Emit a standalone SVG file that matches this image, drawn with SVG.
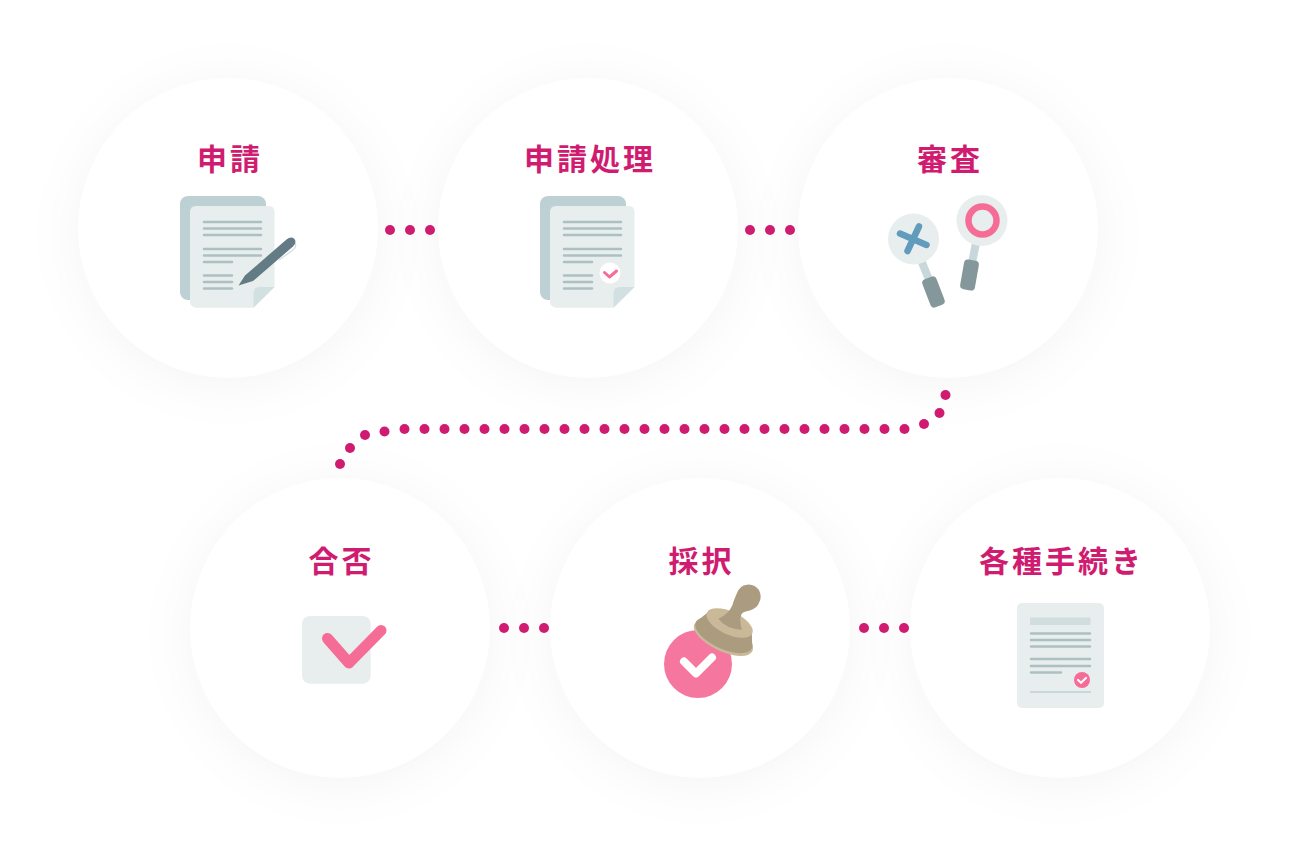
<svg xmlns="http://www.w3.org/2000/svg" xmlns:xlink="http://www.w3.org/1999/xlink" width="1300" height="868" viewBox="0 0 1300 868">
<style>
.label{font-family:"Noto Sans CJK JP","Noto Sans CJK SC",sans-serif;font-weight:700;font-size:30px;letter-spacing:3px;fill:#d01c70;text-anchor:middle}
.disc{fill:#fff}
.shadow{fill:#000;fill-opacity:.045;filter:url(#soft)}
.dot{fill:#d01c70}
.ln{stroke:#adc0c1;stroke-width:2.6;stroke-linecap:round;fill:none}
.page{fill:#e8eeee}
.back{fill:#bdd0d4}
.fold{fill:#d3e0e1}
.ck{fill:none;stroke-linecap:round;stroke-linejoin:round}
</style>
<defs>
<filter id="soft" x="-40%" y="-40%" width="180%" height="180%"><feGaussianBlur stdDeviation="26"/></filter>
<g id="doclines">
<path class="ln" d="M204 222H261M204 228.500H261M204 235H261M204 249H261M204 255.500H261M204 262H232M204 275.500H232M204 282H232M204 288.500H232"/>
</g>
<g id="doc">
<rect class="back" x="180" y="196" width="86" height="104" rx="8"/>
<path class="page" d="M196 206H269Q274.500 206 274.500 212V287L253.500 307.700H197Q190 307.700 190 301V212Q190 206 196 206Z"/>
<path class="fold" d="M253.500 307.700V293Q253.500 287 260 287H274.500Z"/>
<use xlink:href="#doclines" href="#doclines"/>
</g>
</defs>
<rect width="1300" height="868" fill="#fff"/>
<g id="shadows">
<circle class="shadow" cx="228" cy="234" r="150"/><circle class="shadow" cx="588" cy="234" r="150"/><circle class="shadow" cx="948" cy="234" r="150"/>
<circle class="shadow" cx="340" cy="634" r="150"/><circle class="shadow" cx="700" cy="634" r="150"/><circle class="shadow" cx="1060" cy="634" r="150"/>
</g>
<g id="connectors">
<g id="c1"><circle class="dot" cx="390" cy="230" r="5"/><circle class="dot" cx="410" cy="230" r="5"/><circle class="dot" cx="430" cy="230" r="5"/></g>
<g id="c2"><circle class="dot" cx="750" cy="230" r="5"/><circle class="dot" cx="770" cy="230" r="5"/><circle class="dot" cx="790" cy="230" r="5"/></g>
<g id="c3">
<circle class="dot" cx="945.500" cy="395" r="5"/><circle class="dot" cx="939.500" cy="413" r="5"/><circle class="dot" cx="924" cy="424" r="5"/>
<circle class="dot" cx="904.500" cy="429" r="5"/><circle class="dot" cx="884.500" cy="429" r="5"/><circle class="dot" cx="864.500" cy="429" r="5"/><circle class="dot" cx="844.500" cy="429" r="5"/><circle class="dot" cx="824.500" cy="429" r="5"/><circle class="dot" cx="804.500" cy="429" r="5"/><circle class="dot" cx="784.500" cy="429" r="5"/><circle class="dot" cx="764.500" cy="429" r="5"/><circle class="dot" cx="744.500" cy="429" r="5"/><circle class="dot" cx="724.500" cy="429" r="5"/><circle class="dot" cx="704.500" cy="429" r="5"/><circle class="dot" cx="684.500" cy="429" r="5"/><circle class="dot" cx="664.500" cy="429" r="5"/><circle class="dot" cx="644.500" cy="429" r="5"/><circle class="dot" cx="624.500" cy="429" r="5"/><circle class="dot" cx="604.500" cy="429" r="5"/><circle class="dot" cx="584.500" cy="429" r="5"/><circle class="dot" cx="564.500" cy="429" r="5"/><circle class="dot" cx="544.500" cy="429" r="5"/><circle class="dot" cx="524.500" cy="429" r="5"/><circle class="dot" cx="504.500" cy="429" r="5"/><circle class="dot" cx="484.500" cy="429" r="5"/><circle class="dot" cx="464.500" cy="429" r="5"/><circle class="dot" cx="444.500" cy="429" r="5"/><circle class="dot" cx="424.500" cy="429" r="5"/><circle class="dot" cx="404.500" cy="429" r="5"/>
<circle class="dot" cx="384.500" cy="431.500" r="5"/><circle class="dot" cx="365" cy="435" r="5"/><circle class="dot" cx="350" cy="448" r="5"/><circle class="dot" cx="340" cy="464" r="5"/></g>
<g id="c4"><circle class="dot" cx="504" cy="628" r="5"/><circle class="dot" cx="524" cy="628" r="5"/><circle class="dot" cx="544" cy="628" r="5"/></g>
<g id="c5"><circle class="dot" cx="864" cy="628" r="5"/><circle class="dot" cx="884" cy="628" r="5"/><circle class="dot" cx="904" cy="628" r="5"/></g>
</g>
<g id="node-shinsei">
<circle class="disc" cx="228" cy="228" r="150"/>
<text class="label" x="230" y="170">申請</text>
<use xlink:href="#doc" href="#doc"/>
<path d="M279 260L293 250Q297 247 295 243" fill="none" stroke="#d3e0e1" stroke-width="1.400"/>
<path d="M238.500 285.500L245 275.500L286.500 239.500Q291 236 294.500 239Q297 243 293 246.500L253 281Z" fill="#627b84"/>
</g>
<g id="node-shori">
<circle class="disc" cx="588" cy="228" r="150"/>
<text class="label" x="590" y="170">申請処理</text>
<use xlink:href="#doc" href="#doc" x="360"/>
<circle cx="610" cy="273" r="10.500" fill="#fff"/>
<path class="ck" d="M604.500 272.500L609.500 277L616.500 271" stroke="#f56d96" stroke-width="3"/>
</g>
<g id="node-shinsa">
<circle class="disc" cx="948" cy="228" r="150"/>
<text class="label" x="950" y="170">審査</text>
<path d="M921 260L930 282" stroke="#c8d8da" stroke-width="8"/>
<rect x="926" y="277" width="15" height="30" rx="4" fill="#84989c" transform="rotate(-21 933.500 292)"/>
<circle cx="913.500" cy="239" r="25.500" fill="#e8eeee"/>
<path d="M900 233.500L926.500 245M919 226.500L907.500 251" stroke="#619cbd" stroke-width="6.500" stroke-linecap="round" fill="none"/>
<path d="M976 243L972 263" stroke="#c8d8da" stroke-width="8"/>
<rect x="962" y="260" width="15" height="30" rx="4" fill="#84989c" transform="rotate(10 969.500 275)"/>
<circle cx="982" cy="220.500" r="25.500" fill="#e8eeee"/>
<circle cx="982.500" cy="220.500" r="14" fill="none" stroke="#f56d96" stroke-width="6.500"/>
</g>
<g id="node-gohi">
<circle class="disc" cx="340" cy="628" r="150"/>
<text class="label" x="341.500" y="572">合否</text>
<rect x="302" y="616" width="68.700" height="67.700" rx="8" fill="#e8eeee"/>
<path class="ck" d="M327.500 638.500L349 663L381 630.500" stroke="#f56d96" stroke-width="11"/>
</g>
<g id="node-saitaku">
<circle class="disc" cx="700" cy="628" r="150"/>
<text class="label" x="701.500" y="572">採択</text>
<circle cx="698" cy="664" r="34" fill="#f577a0"/>
<path class="ck" d="M684 661.500L696 673.500L712 657.500" stroke="#fff" stroke-width="8"/>
<g transform="translate(725 633) rotate(25)">
<ellipse cx="0.500" cy="5" rx="32" ry="13.500" fill="#cab998"/>
<ellipse cx="0" cy="2.500" rx="31" ry="13.500" fill="#ab9c80"/>
<path d="M-31 2Q-27 -6 -24 -12H24Q27 -6 31 2Q0 10 -31 2Z" fill="#ab9c80"/>
<ellipse cx="0" cy="-11" rx="25" ry="11.500" fill="#cab998"/>
<ellipse cx="0" cy="-9" rx="21" ry="7.500" fill="#ab9c80" fill-opacity=".0"/>
<path d="M-12 -10Q-1 -4 14 -10Q7 -18 7 -24Q7 -27 13 -31Q19 -36 18 -42A12 12 0 0 0 -6 -44Q-6 -34 -5 -28Q-5 -18 -12 -10Z" fill="#ab9c80"/>
</g>
</g>
<g id="node-tetsuzuki">
<circle class="disc" cx="1060" cy="628" r="150"/>
<text class="label" x="1061.500" y="572">各種手続き</text>
<rect x="1017" y="603" width="87" height="105" rx="5" fill="#e8eeee"/>
<rect x="1030" y="617.500" width="60.500" height="7.500" fill="#d0dedf"/>
<path class="ln" d="M1031 633.500H1090M1031 640H1090M1031 646.500H1090M1031 659H1090M1031 666H1090M1031 672.500H1061"/>
<path d="M1030 692H1091" stroke="#adc0c1" stroke-width="1.200"/>
<circle cx="1082" cy="680" r="8" fill="#f56d96"/>
<path class="ck" d="M1078 680L1081 682.800L1086 678" stroke="#fff" stroke-width="2.200"/>
</g>
</svg>
